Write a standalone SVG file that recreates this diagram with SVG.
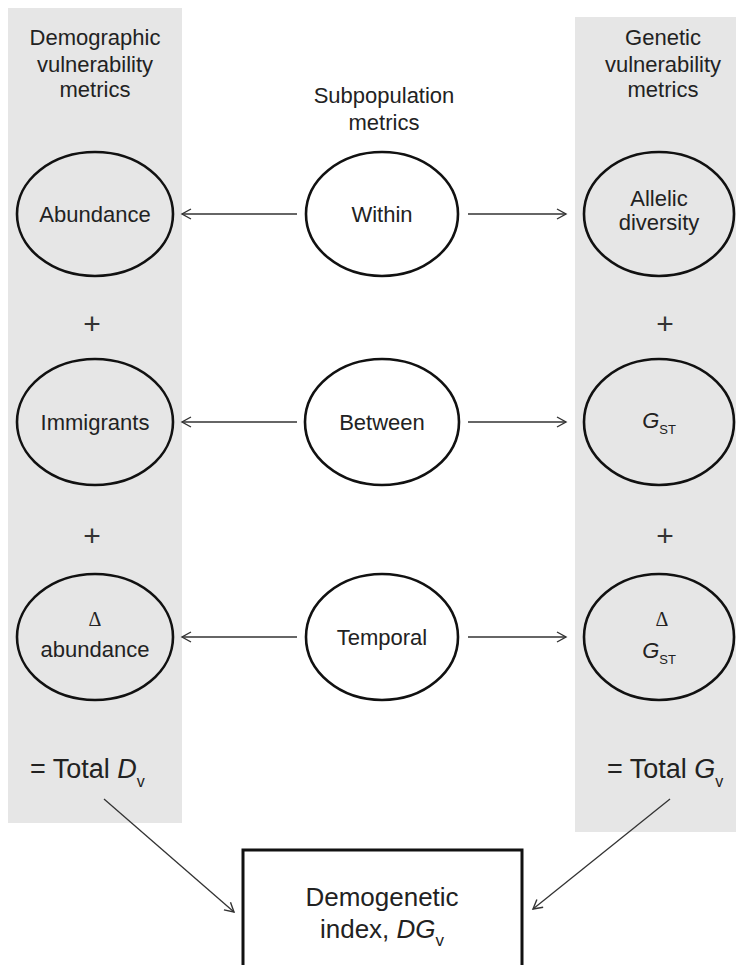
<svg xmlns="http://www.w3.org/2000/svg" width="736" height="965" viewBox="0 0 736 965">
<style>
.panel{fill:#e6e6e6;stroke:none}
.node{stroke:#111;stroke-width:2.6}
.side{fill:none}
.mid{fill:#fff}
.t{font-family:"Liberation Sans",Arial,sans-serif;font-size:22px;fill:#222;text-anchor:middle}
.plus{font-family:"Liberation Sans",Arial,sans-serif;font-size:30px;fill:#333;text-anchor:middle}
.delta{font-family:"Liberation Serif","Times New Roman",serif;font-size:20px;fill:#222;text-anchor:middle}
.total{font-family:"Liberation Sans",Arial,sans-serif;font-size:27px;fill:#222}
.box{font-family:"Liberation Sans",Arial,sans-serif;font-size:26px;fill:#222;text-anchor:middle}
.conn line{stroke:#333;stroke-width:1.3;marker-end:url(#arr)}
</style>
<defs>
<marker id="arr" markerUnits="userSpaceOnUse" markerWidth="14" markerHeight="14" viewBox="0 0 14 14" refX="12" refY="7" orient="auto">
<path d="M3,2 L12,7 L3,12" fill="none" stroke="#333" stroke-width="1.4"/>
</marker>
</defs>
<rect width="736" height="965" fill="#fff"/>
<g id="panel-demographic">
<rect class="panel" x="8" y="8" width="174" height="815"/>
<text class="t" x="95" y="45">Demographic</text>
<text class="t" x="95" y="72">vulnerability</text>
<text class="t" x="95" y="97">metrics</text>
<text class="total" x="30" y="778">= Total <tspan font-style="italic">D</tspan><tspan font-size="16" dy="9">v</tspan></text>
</g>
<g id="panel-genetic">
<rect class="panel" x="575" y="17" width="161" height="815"/>
<text class="t" x="663" y="45">Genetic</text>
<text class="t" x="663" y="72">vulnerability</text>
<text class="t" x="663" y="97">metrics</text>
<text class="total" x="607" y="778">= Total <tspan font-style="italic">G</tspan><tspan font-size="16" dy="9">v</tspan></text>
</g>
<g id="header-subpop">
<text class="t" x="384" y="103">Subpopulation</text>
<text class="t" x="384" y="130">metrics</text>
</g>
<g id="plus-signs">
<text class="plus" x="92" y="334">+</text>
<text class="plus" x="92" y="546">+</text>
<text class="plus" x="665" y="334">+</text>
<text class="plus" x="665" y="546">+</text>
</g>
<g id="abundance">
<ellipse class="node side" cx="95" cy="214" rx="78" ry="62"/>
<text class="t" x="95" y="222">Abundance</text>
</g>
<g id="immigrants">
<ellipse class="node side" cx="95" cy="422" rx="78" ry="63"/>
<text class="t" x="95" y="430">Immigrants</text>
</g>
<g id="delta-abundance">
<ellipse class="node side" cx="95" cy="637" rx="78" ry="63"/>
<text class="delta" x="95" y="626">Δ</text>
<text class="t" x="95" y="657">abundance</text>
</g>
<g id="within">
<ellipse class="node mid" cx="382" cy="214" rx="76" ry="62"/>
<text class="t" x="382" y="222">Within</text>
</g>
<g id="between">
<ellipse class="node mid" cx="382" cy="422" rx="77" ry="63"/>
<text class="t" x="382" y="430">Between</text>
</g>
<g id="temporal">
<ellipse class="node mid" cx="382" cy="637" rx="76" ry="63"/>
<text class="t" x="382" y="645">Temporal</text>
</g>
<g id="allelic-diversity">
<ellipse class="node side" cx="659" cy="214" rx="75" ry="62"/>
<text class="t" x="659" y="206">Allelic</text>
<text class="t" x="659" y="230">diversity</text>
</g>
<g id="gst">
<ellipse class="node side" cx="659" cy="422" rx="75" ry="63"/>
<text class="t" x="659" y="428"><tspan font-style="italic">G</tspan><tspan font-size="13" dy="6">ST</tspan></text>
</g>
<g id="delta-gst">
<ellipse class="node side" cx="659" cy="637" rx="75" ry="63"/>
<text class="delta" x="662" y="626">Δ</text>
<text class="t" x="659" y="658"><tspan font-style="italic">G</tspan><tspan font-size="13" dy="6">ST</tspan></text>
</g>
<g id="demogenetic-index">
<rect x="243" y="850" width="279" height="130" fill="#fff" stroke="#111" stroke-width="3"/>
<text class="box" x="382" y="906">Demogenetic</text>
<text class="box" x="382" y="938">index, <tspan font-style="italic">DG</tspan><tspan font-size="17" dy="8">v</tspan></text>
</g>
<g id="connectors" class="conn">
<line x1="297" y1="214" x2="182" y2="214"/>
<line x1="468" y1="214" x2="566" y2="214"/>
<line x1="297" y1="422" x2="182" y2="422"/>
<line x1="468" y1="422" x2="566" y2="422"/>
<line x1="297" y1="637" x2="182" y2="637"/>
<line x1="468" y1="637" x2="566" y2="637"/>
<line x1="104" y1="799" x2="234" y2="912"/>
<line x1="670" y1="799" x2="533" y2="909"/>
</g>
</svg>
